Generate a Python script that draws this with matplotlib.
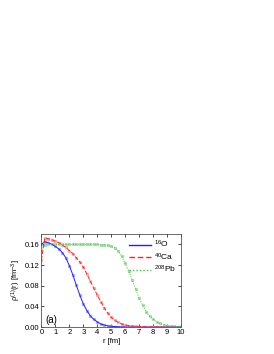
import numpy as np
import matplotlib
matplotlib.use("Agg")
import matplotlib.pyplot as plt
from matplotlib.lines import Line2D

plt.rcParams['font.family'] = ['Liberation Sans', 'DejaVu Sans']
plt.rcParams['mathtext.fontset'] = 'custom'
plt.rcParams['mathtext.rm'] = 'Liberation Sans'
plt.rcParams['mathtext.it'] = 'Liberation Sans'

r = np.arange(0, 10.01, 0.25)

rho_O = [0.160, 0.165, 0.163, 0.160, 0.156, 0.151, 0.144, 0.134, 0.119, 0.101,
         0.081, 0.062, 0.045, 0.032, 0.022, 0.015, 0.010, 0.006, 0.004, 0.0025,
         0.0015, 0.001, 0.0006, 0.0004, 0.0002, 0.0001, 0.0001, 0, 0, 0,
         0, 0, 0, 0, 0, 0, 0, 0, 0, 0, 0]
rho_Ca = [0.130, 0.172, 0.171, 0.169, 0.166, 0.163, 0.159, 0.154, 0.148, 0.142,
          0.134, 0.126, 0.116, 0.103, 0.089, 0.075, 0.062, 0.049, 0.037, 0.027,
          0.019, 0.013, 0.009, 0.006, 0.004, 0.003, 0.002, 0.0013, 0.0009, 0.0006,
          0.0004, 0.0003, 0.0002, 0.0001, 0.0001, 0, 0, 0, 0, 0, 0]
rho_Pb = [0.150, 0.159, 0.160, 0.160, 0.160, 0.160, 0.160, 0.160, 0.160, 0.160,
          0.160, 0.160, 0.160, 0.160, 0.160, 0.160, 0.160, 0.159, 0.159, 0.158,
          0.156, 0.153, 0.147, 0.137, 0.123, 0.108, 0.091, 0.073, 0.056, 0.042,
          0.030, 0.021, 0.015, 0.010, 0.007, 0.0045, 0.003, 0.002, 0.0013, 0.0009,
          0.0006]

labels = [r'$^{16}$O', r'$^{40}$Ca', r'$^{208}$Pb']
colors = ['#2020ff', '#ff2020', '#40c040']
light = ['#a8a8ff', '#ffa8a8', '#a8e0a8']
styles = ['-', (0, (4, 2)), (0, (1, 1.5))]

fig = plt.figure(figsize=(2.74, 3.54), dpi=100)
ax = fig.add_axes([0.151, 0.076, 0.510, 0.263])

handles = []
for y, c, lc, ls, lab in zip([rho_O, rho_Ca, rho_Pb], colors, light, styles, labels):
    ax.plot(r, y, ls='none', marker='s', ms=1.3, mfc=lc, mec=lc, zorder=2)
    ax.plot(r, y, color=c, ls=ls, lw=0.7, zorder=3)
    handles.append(Line2D([], [], color=c, ls=ls, lw=1.0))

ax.set_xlim(0, 10)
ax.set_ylim(0, 0.18)
ax.set_xticks(range(0, 11))
ax.set_yticks([0, 0.04, 0.08, 0.12, 0.16])
ax.set_yticklabels(['0.00', '0.04', '0.08', '0.12', '0.16'])
ax.tick_params(direction='in', top=True, right=True, labelsize=5.5,
               length=2, width=0.5, pad=1.5)
for s in ax.spines.values():
    s.set_linewidth(0.6)
    s.set_color('#555555')

ax.set_xlabel('r [fm]', fontsize=5.5, labelpad=1)
ax.set_ylabel(r'$\rho^{(1)}(r)$ [fm$^{-3}$]', fontsize=5.5, labelpad=1)
ax.text(0.3, 0.008, '(a)', fontsize=7)

ax.legend(handles, labels, loc='upper right', frameon=False, fontsize=6,
          handlelength=2.6, handletextpad=0.4, labelspacing=0.15,
          borderaxespad=0.2, bbox_to_anchor=(1.0, 1.0))

fig.savefig('out.png', dpi=100)
